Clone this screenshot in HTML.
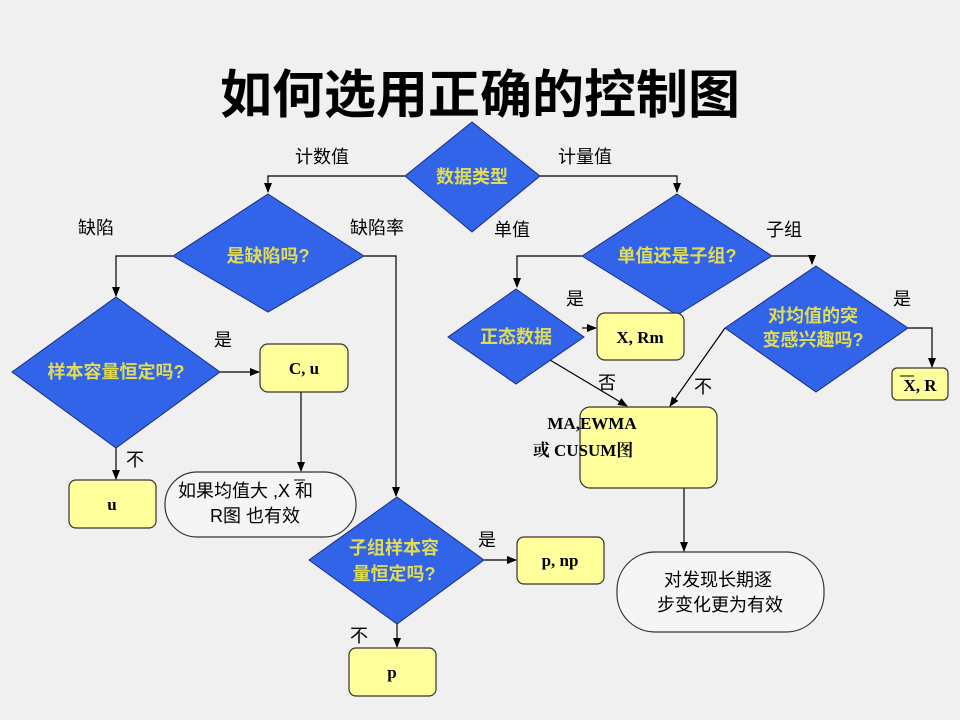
<!DOCTYPE html>
<html><head><meta charset="utf-8"><style>
html,body{margin:0;padding:0;background:#f0f0f0;}
svg{display:block;}
.d{fill:#3164e8;stroke:#1a2e80;stroke-width:1;}
.dt{font-family:"Liberation Sans","Noto Sans CJK SC",sans-serif;font-weight:bold;font-size:18px;fill:#e2dc55;text-anchor:middle;}
.b{fill:#ffff9c;stroke:#333;stroke-width:1.2;}
.bt{font-family:"Liberation Serif","Noto Serif CJK SC",serif;font-weight:bold;font-size:17px;fill:#000;text-anchor:middle;}
.l{font-family:"Liberation Sans","Noto Sans CJK SC",sans-serif;font-size:18px;fill:#000;}
.ln{stroke:#000;stroke-width:1.2;fill:none;}
</style></head><body>
<svg width="960" height="720" viewBox="0 0 960 720" xmlns="http://www.w3.org/2000/svg">
<defs><marker id="a" markerWidth="10" markerHeight="10" refX="9" refY="5" orient="auto" markerUnits="userSpaceOnUse"><path d="M0,1 L10,5 L0,9 z" fill="#000"/></marker></defs>
<rect width="960" height="720" fill="#f0f0f0"/>
<text x="480" y="113" text-anchor="middle" font-family="'Liberation Sans','Noto Sans CJK SC',sans-serif" font-weight="bold" font-size="52" fill="#000">如何选用正确的控制图</text>

<!-- connectors -->
<polyline class="ln" points="405,176 268,176 268,192" marker-end="url(#a)"/>
<polyline class="ln" points="540,176 677,176 677,192" marker-end="url(#a)"/>
<polyline class="ln" points="173,256 116,256 116,296" marker-end="url(#a)"/>
<polyline class="ln" points="364,256 396,256 396,496" marker-end="url(#a)"/>
<line class="ln" x1="220" y1="372" x2="259" y2="372" marker-end="url(#a)"/>
<line class="ln" x1="301" y1="392" x2="301" y2="471" marker-end="url(#a)"/>
<line class="ln" x1="116" y1="448" x2="116" y2="479" marker-end="url(#a)"/>
<line class="ln" x1="484" y1="560" x2="516" y2="560" marker-end="url(#a)"/>
<line class="ln" x1="397" y1="624" x2="397" y2="647" marker-end="url(#a)"/>
<polyline class="ln" points="582,256 517,256 517,287" marker-end="url(#a)"/>
<line class="ln" x1="582" y1="328" x2="596" y2="328" marker-end="url(#a)"/>
<polyline class="ln" points="772,256 812,256 812,264" marker-end="url(#a)"/>
<polyline class="ln" points="908,328 932,328 932,367" marker-end="url(#a)"/>
<line class="ln" x1="550" y1="360" x2="627" y2="406" marker-end="url(#a)"/>
<line class="ln" x1="725" y1="328" x2="670" y2="406" marker-end="url(#a)"/>
<line class="ln" x1="684" y1="488" x2="684" y2="551" marker-end="url(#a)"/>

<!-- diamonds -->
<polygon class="d" points="472,122 540,176 472,232 405,176"/>
<text class="dt" x="472" y="183" font-size="20">数据类型</text>
<polygon class="d" points="268,194 364,256 268,312 173,256"/>
<text class="dt" x="268" y="262">是缺陷吗?</text>
<polygon class="d" points="116,297 220,372 116,448 12,372"/>
<text class="dt" x="116" y="378">样本容量恒定吗?</text>
<polygon class="d" points="397,497 484,560 397,624 309,560"/>
<text class="dt" x="394" y="554">子组样本容</text>
<text class="dt" x="394" y="580">量恒定吗?</text>
<polygon class="d" points="677,194 772,256 677,315 582,256"/>
<text class="dt" x="677" y="262">单值还是子组?</text>
<polygon class="d" points="516,289 584,337 516,384 448,337"/>
<text class="dt" x="516" y="343">正态数据</text>
<polygon class="d" points="816,266 908,328 816,392 725,328"/>
<text class="dt" x="813" y="322">对均值的突</text>
<text class="dt" x="813" y="346">变感兴趣吗?</text>

<!-- boxes -->
<rect class="b" x="260" y="344" width="88" height="48" rx="8"/>
<text class="bt" x="304" y="374">C, u</text>
<rect class="b" x="69" y="480" width="87" height="48" rx="7"/>
<text class="bt" x="112" y="510">u</text>
<rect x="165" y="472" width="191" height="65" rx="32" fill="#f5f5f5" stroke="#333" stroke-width="1.2"/>
<text class="l" x="178" y="497" font-size="17">如果均值大 ,X 和</text>
<line x1="294" y1="480" x2="305" y2="480" stroke="#000" stroke-width="1"/>
<text class="l" x="210" y="522" font-size="17">R图 也有效</text>
<rect class="b" x="517" y="537" width="87" height="47" rx="7"/>
<text class="bt" x="560" y="566">p, np</text>
<rect class="b" x="349" y="648" width="87" height="48" rx="7"/>
<text class="bt" x="392" y="678">p</text>
<rect class="b" x="597" y="313" width="87" height="47" rx="8"/>
<text class="bt" x="640" y="343">X, Rm</text>
<rect class="b" x="892" y="368" width="56" height="32" rx="5"/>
<text class="bt" x="920" y="391">X, R</text>
<line x1="900" y1="376" x2="914" y2="376" stroke="#000" stroke-width="1"/>
<rect class="b" x="580" y="407" width="137" height="81" rx="10"/>
<text class="bt" x="592" y="429" text-anchor="start">MA,EWMA</text>
<text class="bt" x="583" y="456" text-anchor="start" font-size="18">或 CUSUM图</text>
<rect x="617" y="552" width="207" height="80" rx="38" fill="#f5f5f5" stroke="#333" stroke-width="1.2"/>
<text class="l" x="718" y="586" text-anchor="middle" font-size="17">对发现长期逐</text>
<text class="l" x="720" y="611" text-anchor="middle" font-size="17">步变化更为有效</text>

<!-- labels -->
<text class="l" x="295" y="163" font-size="20">计数值</text>
<text class="l" x="558" y="163" font-size="20">计量值</text>
<text class="l" x="78" y="234">缺陷</text>
<text class="l" x="350" y="234">缺陷率</text>
<text class="l" x="494" y="236" font-size="20">单值</text>
<text class="l" x="766" y="236" font-size="20">子组</text>
<text class="l" x="214" y="346">是</text>
<text class="l" x="126" y="466">不</text>
<text class="l" x="478" y="546">是</text>
<text class="l" x="350" y="642">不</text>
<text class="l" x="566" y="305">是</text>
<text class="l" x="598" y="389">否</text>
<text class="l" x="694" y="393">不</text>
<text class="l" x="893" y="305">是</text>
</svg>
</body></html>
